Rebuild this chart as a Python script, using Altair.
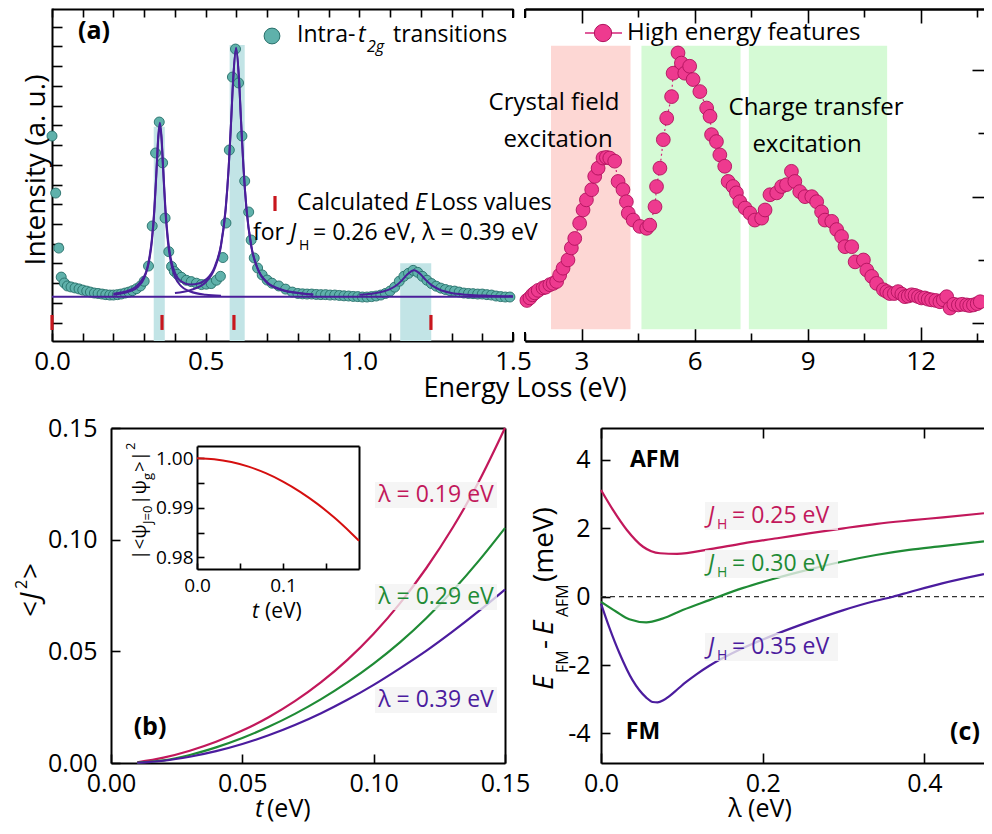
import altair as alt
import pandas as pd

FONT = "Open Sans"
W, H = 976, 818

# ======================= DATA =======================
# (a) low-energy part: intra-t2g transitions (energy loss eV, intensity a.u.)
teal_E = [0.000, 0.012, 0.022, 0.030, 0.040, 0.050, 0.062, 0.075, 0.088, 0.100,
          0.113, 0.125, 0.138, 0.150, 0.163, 0.175, 0.188, 0.200, 0.213, 0.225,
          0.238, 0.250, 0.262, 0.275, 0.288, 0.300, 0.314, 0.326, 0.337, 0.349,
          0.360, 0.368, 0.380, 0.389, 0.398, 0.408, 0.421, 0.437, 0.453, 0.470,
          0.486, 0.502, 0.518, 0.535, 0.548, 0.556, 0.566, 0.577, 0.587, 0.597,
          0.607, 0.618, 0.627, 0.640, 0.648, 0.658, 0.669, 0.684, 0.700, 0.716,
          0.738, 0.760, 0.782, 0.800, 0.815, 0.830, 0.845, 0.860, 0.875, 0.890,
          0.905, 0.920, 0.935, 0.950, 0.965, 0.980, 0.995, 1.010, 1.025, 1.040,
          1.055, 1.070, 1.085, 1.100, 1.115, 1.130, 1.145, 1.160, 1.175, 1.190,
          1.205, 1.220, 1.235, 1.250, 1.265, 1.280, 1.295, 1.310, 1.325, 1.340,
          1.355, 1.370, 1.385, 1.400, 1.415, 1.430, 1.445, 1.460, 1.475, 1.490]
teal_I = [10.46, 7.57, 4.78, 3.31, 3.01, 2.86, 2.81, 2.76, 2.71, 2.65,
          2.60, 2.55, 2.50, 2.48, 2.45, 2.42, 2.40, 2.40, 2.42, 2.45,
          2.50, 2.55, 2.62, 2.72, 2.86, 3.10, 3.87, 5.90, 9.60, 11.17,
          9.10, 6.30, 4.60, 3.85, 3.60, 3.45, 3.30, 3.15, 3.08, 3.00,
          2.93, 2.95, 2.98, 3.15, 3.35, 4.30, 6.05, 9.75, 13.45, 14.87,
          13.15, 10.46, 8.18, 6.61, 5.19, 4.28, 3.77, 3.42, 3.16, 3.00,
          2.86, 2.70, 2.55, 2.48, 2.46, 2.45, 2.45, 2.43, 2.42, 2.42,
          2.40, 2.40, 2.38, 2.36, 2.35, 2.33, 2.32, 2.30, 2.30, 2.32,
          2.35, 2.40, 2.48, 2.60, 2.80, 3.10, 3.35, 3.50, 3.65, 3.55,
          3.35, 3.15, 2.98, 2.85, 2.75, 2.68, 2.62, 2.60, 2.55, 2.50,
          2.48, 2.47, 2.45, 2.45, 2.42, 2.40, 2.35, 2.32, 2.30, 2.30]

fit_base_E = [0.0, 1.5]
fit_base_I = [2.31, 2.31]
fit1_E = [0.20, 0.25, 0.28, 0.30, 0.315, 0.325, 0.333, 0.340, 0.346, 0.351,
          0.356, 0.362, 0.369, 0.377, 0.387, 0.402, 0.42, 0.45, 0.50, 0.55]
fit1_I = [2.42, 2.57, 2.82, 3.26, 4.04, 5.12, 6.65, 8.64, 10.38, 11.00,
          10.38, 8.64, 6.65, 5.12, 4.04, 3.26, 2.85, 2.58, 2.42, 2.37]
fit2_E = [0.40, 0.45, 0.50, 0.53, 0.55, 0.565, 0.575, 0.583, 0.590, 0.599,
          0.608, 0.615, 0.623, 0.633, 0.648, 0.668, 0.698, 0.748, 0.80, 0.85]
fit2_I = [2.50, 2.65, 3.05, 3.77, 4.90, 6.72, 8.86, 11.24, 13.45, 14.90,
          13.45, 11.24, 8.86, 6.72, 4.90, 3.77, 3.05, 2.65, 2.50, 2.42]
fit3_E = [1.00, 1.05, 1.08, 1.10, 1.12, 1.14, 1.155, 1.178, 1.20, 1.215,
          1.235, 1.26, 1.30, 1.35, 1.42, 1.50]
fit3_I = [2.41, 2.49, 2.59, 2.70, 2.88, 3.17, 3.43, 3.66, 3.44, 3.18,
          2.90, 2.68, 2.50, 2.42, 2.37, 2.34]
fit_tot_E = [0.20, 0.25, 0.30, 0.315, 0.325, 0.333, 0.340, 0.346, 0.351, 0.356,
             0.362, 0.369, 0.377, 0.387, 0.402, 0.42, 0.45, 0.48, 0.50, 0.53,
             0.55, 0.565, 0.575, 0.583, 0.590, 0.599, 0.608, 0.615, 0.623, 0.633,
             0.648, 0.668, 0.698, 0.748, 0.80, 0.85]
fit_tot_I = [2.47, 2.63, 3.35, 4.14, 5.23, 6.77, 8.76, 10.51, 11.13, 10.51,
             8.78, 6.80, 5.28, 4.22, 3.46, 3.09, 2.93, 3.00, 3.17, 3.86,
             4.97, 6.78, 8.91, 11.29, 13.49, 14.94, 13.48, 11.27, 8.89, 6.75,
             4.93, 3.79, 3.07, 2.67, 2.51, 2.43]

peak_lo = [0.331, 0.578, 1.133]
peak_hi = [0.367, 0.627, 1.234]
peak_top = [10.93, 15.07, 4.01]
calc_E = [0.0, 0.358, 0.592, 1.233]

# (a) high-energy part
high_E = [1.55, 1.63, 1.70, 1.76, 1.85, 1.98, 2.05, 2.16, 2.25, 2.34,
          2.42, 2.51, 2.64, 2.73, 2.82, 2.95, 3.04, 3.13, 3.27, 3.35,
          3.44, 3.57, 3.66, 3.75, 3.88, 3.97, 4.10, 4.19, 4.24, 4.37,
          4.55, 4.73, 4.81, 4.95, 4.99, 5.08, 5.17, 5.26, 5.39, 5.43,
          5.56, 5.65, 5.74, 5.87, 5.96, 6.14, 6.32, 6.41, 6.45, 6.58,
          6.67, 6.80, 6.89, 7.02, 7.11, 7.20, 7.34, 7.47, 7.60, 7.78,
          7.87, 8.00, 8.18, 8.31, 8.44, 8.57, 8.66, 8.79, 8.93, 9.11,
          9.24, 9.37, 9.46, 9.64, 9.77, 9.90, 9.99, 10.17, 10.26, 10.48,
          10.57, 10.70, 10.83, 11.01, 11.10, 11.18, 11.30, 11.40, 11.50, 11.58,
          11.67, 11.76, 11.85, 11.94, 12.02, 12.11, 12.20, 12.29, 12.40, 12.51,
          12.60, 12.69, 12.78, 12.88, 13.00, 13.10, 13.22, 13.30, 13.40, 13.50,
          13.58]
high_I = [1.36, 1.40, 1.45, 1.48, 1.52, 1.56, 1.57, 1.61, 1.63, 1.66,
          1.76, 1.87, 2.00, 2.19, 2.34, 2.58, 2.79, 2.95, 3.11, 3.32,
          3.45, 3.61, 3.62, 3.61, 3.56, 3.24, 3.11, 2.92, 2.74, 2.63,
          2.53, 2.50, 2.55, 2.84, 3.16, 3.45, 3.90, 4.24, 4.58, 4.95,
          5.27, 5.11, 4.95, 5.06, 4.85, 4.66, 4.40, 4.27, 3.98, 3.87,
          3.66, 3.48, 3.24, 3.16, 3.06, 2.92, 2.82, 2.74, 2.63, 2.66,
          2.79, 3.03, 3.06, 3.16, 3.19, 3.40, 3.24, 3.08, 3.00, 3.00,
          2.92, 2.76, 2.63, 2.61, 2.48, 2.37, 2.21, 2.21, 1.97, 2.00,
          1.84, 1.74, 1.63, 1.53, 1.50, 1.47, 1.47, 1.50, 1.46, 1.42,
          1.43, 1.45, 1.44, 1.42, 1.40, 1.40, 1.38, 1.37, 1.36, 1.34,
          1.37, 1.42, 1.24, 1.30, 1.29, 1.30, 1.29, 1.28, 1.29, 1.31,
          1.34]
zone_lo = [2.19, 4.59, 7.44]
zone_hi = [4.30, 7.22, 11.11]
zone_kind = ["crystal field", "charge transfer", "charge transfer"]

# (b) <J^2> versus t
t_vals = [0.01, 0.02, 0.03, 0.04, 0.05, 0.06, 0.07, 0.08, 0.09, 0.10, 0.11, 0.12, 0.13, 0.14, 0.15]
j2_019 = [0.0003, 0.0024, 0.0055, 0.0095, 0.0145, 0.0205, 0.0277, 0.0362, 0.0462, 0.0579,
          0.0715, 0.0872, 0.1052, 0.1259, 0.1500]
j2_029 = [0.0002, 0.0012, 0.0036, 0.0070, 0.0112, 0.0162, 0.0220, 0.0286, 0.0361, 0.0445,
          0.0540, 0.0648, 0.0770, 0.0905, 0.1052]
j2_039 = [0.0001, 0.0010, 0.0028, 0.0053, 0.0085, 0.0124, 0.0170, 0.0223, 0.0283, 0.0350,
          0.0424, 0.0502, 0.0588, 0.0680, 0.0777]
# inset
ti_vals = [0.0, 0.02, 0.04, 0.06, 0.08, 0.10, 0.12, 0.14, 0.16, 0.18, 0.1884]
overlap = [1.0, 0.99981, 0.99925, 0.99831, 0.99699, 0.9953, 0.99323, 0.99079, 0.98797, 0.98477, 0.98335]

# (c) E_FM - E_AFM versus lambda
lam_025 = [0.0, 0.015, 0.032, 0.052, 0.073, 0.094, 0.135, 0.176, 0.218, 0.259, 0.300, 0.341, 0.382, 0.423, 0.4737]
e_025 = [3.12, 2.53, 1.95, 1.46, 1.27, 1.25, 1.39, 1.56, 1.71, 1.86, 2.00, 2.13, 2.23, 2.32, 2.44]
lam_030 = [0.0, 0.019, 0.035, 0.056, 0.076, 0.101, 0.134, 0.175, 0.216, 0.258, 0.299, 0.340, 0.381, 0.422, 0.4737]
e_030 = [-0.15, -0.44, -0.66, -0.75, -0.64, -0.39, -0.10, 0.25, 0.54, 0.80, 1.03, 1.22, 1.37, 1.48, 1.62]
lam_035 = [0.0, 0.010, 0.023, 0.039, 0.056, 0.064, 0.070, 0.077, 0.085, 0.095, 0.105, 0.118, 0.134,
           0.175, 0.216, 0.258, 0.299, 0.340, 0.361, 0.381, 0.422, 0.4737]
e_035 = [-0.20, -0.88, -1.66, -2.44, -2.95, -3.08, -3.09, -3.03, -2.90, -2.70, -2.50, -2.27, -2.02,
         -1.51, -1.10, -0.73, -0.40, -0.12, 0.0, 0.13, 0.39, 0.66]

# ======================= STYLE =======================
CRIM, GREEN, PURP = "#c2185b", "#1f8b35", "#4b1c9e"
FITC = "#4a1f9a"

dummy = pd.DataFrame({"v": [0]})


def S(dom, rng):
    return alt.Scale(domain=dom, range=rng, nice=False, zero=False)


XA = S([0, 1.5], [44, 505]);          YA = S([0.07, 16.95], [333, 0])
XB = S([1.5, 13.68], [517, 976]);     YB = S([0.72, 5.98], [333, 0])
XC = S([0, 0.15], [103, 497]);        YC = S([0, 0.15], [755, 420])
XD = S([0, 0.1884], [189, 351]);      YD = S([0.97764, 1.00248], [561, 438])
XE = S([0, 0.4737], [593, 976]);      YE = S([-4.863, 4.933], [755, 420])


def AX(orient, offset, values=(), tick=8, labels=False, expr=None, size=26, pad=0, domain=True):
    kw = dict(orient=orient, offset=offset, title=None, grid=False, domain=domain,
              domainColor="black", domainWidth=2, values=list(values),
              ticks=len(values) > 0, labels=labels)
    if len(values) > 0:
        kw.update(tickColor="black", tickWidth=1.6, tickSize=alt.ExprRef(expr=str(-tick)))
    if labels:
        kw.update(labelFont=FONT, labelFontSize=size, labelColor="black", labelFlush=False,
                  labelOverlap=False, labelPadding=pad, labelExpr=expr)
    return alt.Axis(**kw)


def axx(xs, axis):
    return alt.Chart(dummy).mark_point(opacity=0).encode(x=alt.X("v:Q", scale=xs, axis=axis))


def axy(ys, axis):
    return alt.Chart(dummy).mark_point(opacity=0).encode(y=alt.Y("v:Q", scale=ys, axis=axis))


def line(E, I, xs, ys, color, width=2.2, dash=None, interp="monotone"):
    df = pd.DataFrame({"x": E, "y": I})
    kw = dict(color=color, strokeWidth=width, interpolate=interp)
    if dash:
        kw["strokeDash"] = dash
    return alt.Chart(df).mark_line(**kw).encode(
        x=alt.X("x:Q", scale=xs, axis=None), y=alt.Y("y:Q", scale=ys, axis=None))


def T(s, x, y, size=23, color="black", align="left", angle=0, style="normal", weight="normal"):
    return alt.Chart(dummy).mark_text(
        text=s, align=align, baseline="middle", angle=angle, fontSize=size, font=FONT,
        fontStyle=style, fontWeight=weight, color=color).encode(x=alt.value(x), y=alt.value(y))


def pxrule(x, y, x2=None, y2=None, color="black", width=2):
    enc = dict(x=alt.value(x), y=alt.value(y))
    if x2 is not None:
        enc["x2"] = alt.value(x2)
    if y2 is not None:
        enc["y2"] = alt.value(y2)
    return alt.Chart(dummy).mark_rule(color=color, strokeWidth=width).encode(**enc)


def box(x, x2, y, y2):
    return alt.Chart(dummy).mark_rect(fill="#f2f2f2", opacity=0.78).encode(
        x=alt.value(x), x2=alt.value(x2), y=alt.value(y), y2=alt.value(y2))


L = []

# ---------------- panel (a) left ----------------
shade = pd.DataFrame({"lo": peak_lo, "hi": peak_hi, "top": peak_top})
L.append(alt.Chart(shade).mark_rect(color="#c2e4e6").encode(
    x=alt.X("lo:Q", scale=XA, axis=None), x2="hi:Q",
    y=alt.Y("top:Q", scale=YA, axis=None), y2=alt.datum(0.07)))
teal = pd.DataFrame({"x": teal_E, "y": teal_I})
L.append(alt.Chart(teal).mark_circle(size=100, fill="#5fb1ab", stroke="#276f6a", strokeWidth=0.9,
                                     opacity=1).encode(
    x=alt.X("x:Q", scale=XA, axis=None), y=alt.Y("y:Q", scale=YA, axis=None)))
L.append(line(fit_base_E, fit_base_I, XA, YA, FITC, 2, interp="linear"))
L.append(line(fit1_E, fit1_I, XA, YA, FITC, 2))
L.append(line(fit2_E, fit2_I, XA, YA, FITC, 2))
L.append(line(fit3_E, fit3_I, XA, YA, FITC, 2))
L.append(line(fit_tot_E, fit_tot_I, XA, YA, FITC, 2))
calc = pd.DataFrame({"x": calc_E})
L.append(alt.Chart(calc).mark_rule(color="#c8161d", strokeWidth=3.2).encode(
    x=alt.X("x:Q", scale=XA, axis=None),
    y=alt.YDatum(datum=1.39, scale=YA, axis=None), y2=alt.datum(0.63)))

tenth = [0, 0.1, 0.2, 0.3, 0.4, 0.5, 0.6, 0.7, 0.8, 0.9, 1.0, 1.1, 1.2, 1.3, 1.4, 1.5]
L.append(axx(XA, AX("bottom", -485, tenth, 8, True,
                    "indexof([0, 0.5, 1, 1.5], datum.value) >= 0 ? format(datum.value, '.1f') : ''",
                    26, 15)))
L.append(axx(XA, AX("top", -1, tenth, 8)))
L.append(axy(YA, AX("left", -44, list(range(1, 17)), 10)))
L.append(pxrule(505, 1, y2=10))
L.append(pxrule(505, 324, y2=333))

# ---------------- panel (a) right ----------------
zones = pd.DataFrame({"lo": zone_lo, "hi": zone_hi, "kind": zone_kind})
L.append(alt.Chart(zones).mark_rect().encode(
    x=alt.X("lo:Q", scale=XB, axis=None), x2="hi:Q",
    y=alt.YDatum(datum=5.384, scale=YB, axis=None), y2=alt.datum(0.905),
    color=alt.Color("kind:N", legend=None,
                    scale=alt.Scale(domain=["crystal field", "charge transfer"],
                                    range=["#fdd7d4", "#d5fad5"]))))
high = pd.DataFrame({"x": high_E, "y": high_I})
L.append(alt.Chart(high).mark_line(color="#d4247a", strokeWidth=1.2, strokeDash=[2, 3]).encode(
    x=alt.X("x:Q", scale=XB, axis=None), y=alt.Y("y:Q", scale=YB, axis=None)))
L.append(alt.Chart(high).mark_circle(size=190, fill="#ee3a8f", stroke="#b1125e", strokeWidth=0.9,
                                     opacity=1).encode(
    x=alt.X("x:Q", scale=XB, axis=None), y=alt.Y("y:Q", scale=YB, axis=None)))
L.append(axx(XB, AX("bottom", -485, [3, 6, 9, 12], 14, True, "format(datum.value, 'd')", 26, 21)))
L.append(axx(XB, AX("bottom", -485, [1.5, 4.5, 7.5, 10.5, 13.5], 8)))
L.append(axx(XB, AX("top", -1, [3, 6, 9, 12], 14)))
L.append(axx(XB, AX("top", -1, [1.5, 4.5, 7.5, 10.5, 13.5], 8)))
L.append(axy(YB, AX("right", 0, [1, 3, 5], 12, domain=False)))
L.append(axy(YB, AX("right", 0, [2, 4], 6, domain=False)))
L.append(pxrule(517, 1, y2=10))
L.append(pxrule(517, 324, y2=333))

# ---------------- panel (b) ----------------
L.append(line(t_vals, j2_019, XC, YC, CRIM))
L.append(line(t_vals, j2_029, XC, YC, GREEN))
L.append(line(t_vals, j2_039, XC, YC, PURP))
L.append(axx(XC, AX("bottom", -63, [0, 0.05, 0.1, 0.15], 9, True, "format(datum.value, '.2f')", 25, 17)))
L.append(axx(XC, AX("top", -420)))
L.append(axy(YC, AX("left", -103, [0, 0.05, 0.1, 0.15], 9, True, "format(datum.value, '.2f')", 25, 23)))
L.append(axy(YC, AX("right", 497 - W)))
# inset
L.append(line(ti_vals, overlap, XD, YD, "#d50f0f", 2))
L.append(axx(XD, AX("bottom", 561 - H, [0, 0.05, 0.1, 0.15], 6, True,
                    "indexof([0, 0.1], datum.value) >= 0 ? format(datum.value, '.1f') : ''", 19, 13)))
L.append(axx(XD, AX("top", -438)))
L.append(axy(YD, AX("left", -189, [0.98, 0.985, 0.99, 0.995, 1.0], 7, True,
                    "indexof([0.98, 0.99, 1.0], datum.value) >= 0 ? format(datum.value, '.2f') : ''", 19, 11)))
L.append(axy(YD, AX("right", 351 - W)))

# ---------------- panel (c) ----------------
L.append(alt.Chart(dummy).mark_rule(color="#333333", strokeWidth=1.2, strokeDash=[5, 4]).encode(
    x=alt.XDatum(datum=0, scale=XE, axis=None), x2=alt.datum(0.4737),
    y=alt.YDatum(datum=0, scale=YE, axis=None)))
L.append(line(lam_025, e_025, XE, YE, CRIM))
L.append(line(lam_030, e_030, XE, YE, GREEN))
L.append(line(lam_035, e_035, XE, YE, PURP))
L.append(axx(XE, AX("bottom", -63, [0, 0.2, 0.4], 10, True, "format(datum.value, '.1f')", 25, 18)))
L.append(axx(XE, AX("top", -420, [0, 0.2, 0.4], 10)))
L.append(axy(YE, AX("left", -593, [-4, -2, 0, 2, 4], 9, True, "'' + datum.value", 25, 20)))

# ---------------- label boxes ----------------
for yc in (487, 589, 692):
    L.append(box(367, 489, yc - 13, yc + 13))
for yc in (508, 556, 639):
    L.append(box(697, 830, yc - 14, yc + 14))

# ---------------- texts, panel (a) ----------------
L.append(T("(a)", 86, 23, 25, align="center", weight="bold"))
L.append(alt.Chart(dummy).mark_circle(size=250, fill="#5fb1ab", stroke="#276f6a", strokeWidth=1,
                                      opacity=1).encode(x=alt.value(264), y=alt.value(28)))
L.append(T("Intra-", 289, 27, 23))
L.append(T("t", 350, 27, 23, style="italic"))
L.append(T("2g", 359, 39, 16, style="italic"))
L.append(T("transitions", 385, 27, 23))
L.append(pxrule(577, 25, x2=614, color="#d4247a", width=1.5))
L.append(alt.Chart(dummy).mark_circle(size=300, fill="#ee3a8f", stroke="#b1125e", strokeWidth=1,
                                      opacity=1).encode(x=alt.value(595), y=alt.value(25)))
L.append(T("High energy features", 619, 25, 24))
L.append(pxrule(267, 188, y2=203, color="#c8161d", width=3.2))
L.append(T("Calculated", 289, 195, 23))
L.append(T("E", 407, 195, 23, style="italic"))
L.append(T("Loss values", 422, 195, 23))
L.append(T("for", 245, 225, 23))
L.append(T("J", 282, 225, 23, style="italic"))
L.append(T("H", 291, 238, 14))
L.append(T("= 0.26 eV, λ = 0.39 eV", 305, 225, 23))
L.append(T("Crystal field", 546, 95, 24, align="center"))
L.append(T("excitation", 550, 132, 24, align="center"))
L.append(T("Charge transfer", 808, 100, 24, align="center"))
L.append(T("excitation", 799, 137, 24, align="center"))
L.append(T("Intensity (a. u.)", 29, 162, 28, align="center", angle=270))
L.append(T("Energy Loss (eV)", 517, 381, 27, align="center"))

# ---------------- texts, panel (b) ----------------
L.append(T("(b)", 142, 719, 25, align="center", weight="bold"))
L.append(T("λ = 0.19 eV", 428, 487, 23, CRIM, "center"))
L.append(T("λ = 0.29 eV", 428, 589, 23, GREEN, "center"))
L.append(T("λ = 0.39 eV", 428, 692, 23, PURP, "center"))
L.append(T("<", 24, 609, 28, angle=270))
L.append(T("J", 24, 592, 28, angle=270, style="italic"))
L.append(T("2", 14, 581, 16, angle=270))
L.append(T(">", 24, 571, 28, angle=270))
L.append(T("t", 247, 801, 25, style="italic"))
L.append(T("(eV)", 259, 801, 25))
# inset texts
L.append(T("|<ψ", 132, 552, 19, angle=270))
L.append(T("J=0", 140, 516, 13, angle=270))
L.append(T("|ψ", 132, 497, 19, angle=270))
L.append(T("g", 140, 472, 13, angle=270))
L.append(T(">|", 132, 464, 19, angle=270))
L.append(T("2", 123, 442, 13, angle=270))
L.append(T("t", 244, 604, 21, style="italic"))
L.append(T("(eV)", 257, 604, 21))

# ---------------- texts, panel (c) ----------------
L.append(T("AFM", 647, 452, 23, align="center", weight="bold"))
L.append(T("FM", 635, 724, 23, align="center", weight="bold"))
L.append(T("(c)", 957, 724, 25, align="center", weight="bold"))
for yc, lab, col in ((508, "= 0.25 eV", CRIM), (556, "= 0.30 eV", GREEN), (639, "= 0.35 eV", PURP)):
    L.append(T("J", 700, yc, 23, col, style="italic"))
    L.append(T("H", 709, yc + 9, 14, col))
    L.append(T(lab, 724, yc, 23, col))
L.append(T("E", 537, 682, 28, angle=270, style="italic"))
L.append(T("FM", 555, 665, 16, angle=270))
L.append(T("-", 537, 641, 28, angle=270))
L.append(T("E", 537, 627, 28, angle=270, style="italic"))
L.append(T("AFM", 555, 609, 16, angle=270))
L.append(T("(meV)", 537, 574, 28, angle=270))
L.append(T("λ (eV)", 752, 801, 25, align="center"))

chart = (alt.layer(*L)
         .resolve_scale(x="independent", y="independent", color="independent")
         .resolve_axis(x="independent", y="independent")
         .properties(width=W, height=H, padding=0, background="white",
                     autosize=alt.AutoSizeParams(type="none"))
         .configure_view(stroke=None))

chart.save("out.html", embed_options={"renderer": "svg", "actions": False})
